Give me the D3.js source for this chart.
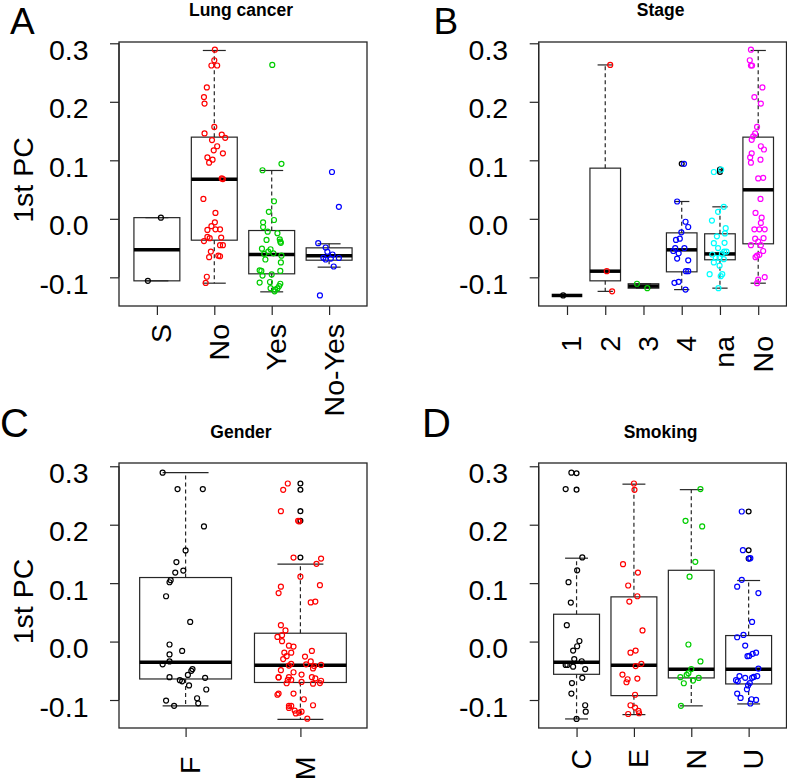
<!DOCTYPE html>
<html><head><meta charset="utf-8">
<script src="https://cdn.jsdelivr.net/npm/d3@7"></script>
<style>body{margin:0;background:#fff}svg{display:block}text{font-family:"Liberation Sans",Arial,sans-serif}</style>
</head><body><svg id="c" width="787" height="781"></svg>
<script>
// ---------- DATA ----------
const yTicks = [-0.1, 0.0, 0.1, 0.2, 0.3];

// Panel A: Lung cancer
const lungCats = ["S", "No", "Yes", "No-Yes"];
const lungColors = ["#000000", "#FF0000", "#00CD00", "#0000FF"];
const lungBox = [ // [lower whisker, Q1, median, Q3, upper whisker]
  [-0.106, -0.106, -0.053, 0.002, 0.002],
  [-0.110, -0.0365, 0.0678, 0.1396, 0.2877],
  [-0.1248, -0.094, -0.061, -0.020, 0.0826],
  [-0.0826, -0.0707, -0.063, -0.0496, -0.0427]
];
const lungOut = [[], [], [], []];
const lungPts = [ // [jitter (category units), value]
  [[0.07,0.002],[-0.157,-0.106]],
  [[0.01,0.289],[0,0.271],[-0.05,0.262],[0.05,0.262],[-0.13,0.2245],[-0.18,0.208],[-0.17,0.197],[0,0.157],[-0.17,0.146],[0.13,0.144],[0.19,0.1385],[-0.04,0.1345],[0.05,0.124],[-0.01,0.117],[0.15,0.112],[-0.12,0.105],[-0.03,0.101],[-0.09,0.096],[0.13,0.069],[0.15,0.068],[-0.19,0.034],[0.02,0.010],[0.01,-0.006],[-0.05,-0.0125],[0.10,-0.018],[-0.12,-0.019],[0.02,-0.018],[-0.12,-0.031],[-0.08,-0.033],[0.12,-0.032],[-0.18,-0.038],[0.10,-0.045],[0.15,-0.045],[-0.06,-0.056],[0.07,-0.063],[0.10,-0.064],[-0.09,-0.0655],[-0.13,-0.099],[-0.15,-0.1095]],
  [[0.01,0.263],[-0.16,0.083],[0.17,0.094],[0.04,0.030],[-0.05,0.012],[0.04,-0.002],[-0.15,-0.006],[-0.15,-0.014],[-0.07,-0.022],[0.10,-0.0245],[0.14,-0.035],[0.16,-0.041],[0.15,-0.039],[-0.09,-0.036],[-0.17,-0.051],[-0.02,-0.052],[-0.06,-0.056],[-0.13,-0.060],[0.03,-0.059],[0.17,-0.063],[-0.11,-0.0695],[0.16,-0.0746],[-0.21,-0.088],[-0.18,-0.089],[-0.16,-0.097],[0,-0.095],[0.15,-0.089],[-0.21,-0.109],[-0.03,-0.108],[0.15,-0.111],[-0.02,-0.1185],[0.10,-0.119],[0.05,-0.124],[0.06,-0.121],[0.13,-0.115]],
  [[0.05,0.080],[0.17,0.0205],[-0.19,-0.0416],[-0.06,-0.049],[-0.03,-0.0564],[0.06,-0.061],[-0.10,-0.0667],[-0.06,-0.0695],[0.03,-0.068],[0.17,-0.067],[0.08,-0.0815],[-0.16,-0.131]]
];

// Panel B: Stage
const stageCats = ["1", "2", "3", "4", "na", "No"];
const stageColors = ["#000000", "#FF0000", "#00CD00", "#0000FF", "#00FFFF", "#FF00FF"];
const stageBox = [
  [-0.131, -0.131, -0.131, -0.131, -0.131],
  [-0.124, -0.106, -0.0895, 0.0866, 0.263],
  [-0.1185, -0.1185, -0.115, -0.111, -0.111],
  [-0.121, -0.0906, -0.053, -0.024, 0.0296],
  [-0.1185, -0.070, -0.060, -0.0256, 0.0205],
  [-0.110, -0.0427, 0.0496, 0.1396, 0.2877]
];
const stageOut = [[], [], [], [0.094], [0.080, 0.084], []];
const stagePts = [
  [[-0.10,-0.131]],
  [[0.13,0.263],[0.04,-0.0895],[0.18,-0.124]],
  [[-0.17,-0.111],[0.10,-0.1185]],
  [[0.06,0.094],[-0.12,0.0296],[0.10,-0.005],[0.17,-0.014],[-0.01,-0.023],[-0.05,-0.034],[-0.15,-0.036],[0.07,-0.050],[-0.17,-0.050],[-0.22,-0.055],[-0.08,-0.059],[-0.12,-0.068],[0.17,-0.071],[0.11,-0.0895],[0.17,-0.0895],[-0.19,-0.1094],[-0.08,-0.1077],[0.10,-0.121]],
  [[-0.16,0.080],[0.03,0.084],[0.10,0.0205],[-0.05,0.012],[-0.21,-0.003],[0.15,-0.016],[-0.08,-0.030],[0.13,-0.025],[-0.16,-0.0416],[0.12,-0.041],[0.17,-0.056],[0.11,-0.056],[-0.05,-0.050],[0.05,-0.060],[-0.20,-0.061],[-0.11,-0.0667],[-0.01,-0.0667],[-0.16,-0.0746],[0.10,-0.069],[-0.01,-0.080],[-0.27,-0.0946],[0.06,-0.0946],[0.02,-0.098],[-0.04,-0.1185]],
  [[-0.19,0.289],[-0.22,0.271],[-0.19,0.262],[-0.16,0.262],[0.11,0.2245],[-0.10,0.208],[0.07,0.197],[-0.03,0.157],[-0.08,0.146],[-0.13,0.141],[-0.17,0.135],[0.07,0.124],[0.15,0.1185],[-0.17,0.112],[-0.21,0.105],[-0.19,0.096],[0.06,0.101],[0,0.069],[0.13,0.070],[0.06,0.034],[-0.07,0.010],[0.09,0.002],[0.07,-0.007],[-0.10,-0.018],[0.03,-0.018],[0.17,-0.018],[-0.08,-0.034],[0.14,-0.033],[-0.19,-0.045],[0.07,-0.045],[0,-0.039],[0.13,-0.055],[-0.03,-0.063],[-0.07,-0.0655],[0.03,-0.0615],[0,-0.104],[-0.03,-0.110],[0.17,-0.0997]]
];

// Panel C: Gender
const genderCats = ["F", "M"];
const genderColors = ["#000000", "#FF0000"];
const genderBox = [
  [-0.110, -0.064, -0.0354, 0.1096, 0.289],
  [-0.133, -0.070, -0.0405, 0.0143, 0.1324]
];
const genderOut = [[], [0.2705, 0.2597, 0.2232, 0.2066, 0.1438]];
const genderPts = [
  [[-0.20,0.289],[-0.07,0.261],[0.15,0.261],[0.16,0.197],[0,0.156],[-0.08,0.136],[-0.02,0.1215],[-0.09,0.118],[-0.14,0.1015],[-0.13,0.105],[-0.17,0.0776],[0.04,0.0337],[-0.14,-0.005],[-0.03,-0.016],[-0.14,-0.022],[-0.20,-0.039],[-0.14,-0.034],[0.06,-0.047],[0.05,-0.050],[0.02,-0.057],[-0.14,-0.061],[0.17,-0.062],[-0.05,-0.066],[-0.03,-0.068],[0.03,-0.075],[0.18,-0.082],[-0.17,-0.101],[0.10,-0.097],[0.11,-0.1056],[-0.10,-0.110]],
  [[-0.11,0.2705],[-0.15,0.2597],[-0.17,0.2232],[-0.02,0.2066],[-0.01,0.2055],[-0.06,0.1438],[0.18,0.142],[0.14,0.133],[0,0.111],[-0.17,0.094],[-0.19,0.083],[0.17,0.0965],[0.13,0.0685],[0.09,0.067],[-0.17,0.028],[-0.13,0.019],[-0.20,0.008],[-0.16,0.011],[-0.16,0.0006],[-0.10,-0.007],[-0.06,-0.0086],[0.10,-0.016],[-0.14,-0.019],[-0.08,-0.019],[-0.12,-0.025],[0.04,-0.0257],[-0.15,-0.030],[0.09,-0.034],[0.12,-0.042],[0.11,-0.046],[0.18,-0.040],[-0.08,-0.038],[-0.10,-0.041],[0.05,-0.039],[-0.17,-0.049],[-0.06,-0.0525],[0.01,-0.0565],[-0.19,-0.061],[-0.19,-0.0615],[-0.10,-0.061],[-0.11,-0.0656],[-0.08,-0.0656],[0.10,-0.061],[0.13,-0.063],[0.18,-0.067],[0.17,-0.071],[0.01,-0.069],[0.11,-0.072],[-0.12,-0.0713],[-0.20,-0.091],[-0.19,-0.089],[-0.06,-0.089],[0.03,-0.0987],[0.11,-0.109],[-0.10,-0.110],[-0.10,-0.1136],[-0.08,-0.110],[-0.05,-0.118],[-0.04,-0.123],[-0.01,-0.1216],[0.01,-0.120],[0.06,-0.132]]
];

// Panel D: Smoking
const smokeCats = ["C", "E", "N", "U"];
const smokeColors = ["#000000", "#FF0000", "#00CD00", "#0000FF"];
const smokeBox = [
  [-0.1324, -0.056, -0.0354, 0.0468, 0.1427],
  [-0.125, -0.0925, -0.0405, 0.0765, 0.2694],
  [-0.110, -0.0622, -0.0474, 0.122, 0.260],
  [-0.1067, -0.0725, -0.0474, 0.0103, 0.1045]
];
const smokeOut = [[0.288, 0.260], [], [], [0.2226, 0.1564, 0.142]];
const smokePts = [
  [[-0.09,0.289],[-0.19,0.261],[0.10,0.144],[0.01,0.122],[-0.14,0.1016],[-0.10,0.0668],[-0.17,0.028],[0.05,0.001],[0.01,-0.008],[-0.06,-0.0154],[-0.04,-0.030],[0.09,-0.0337],[-0.19,-0.040],[-0.16,-0.040],[-0.06,-0.043],[0.15,-0.047],[0.10,-0.062],[-0.08,-0.071],[-0.09,-0.089],[0.15,-0.109],[0.16,-0.120],[0,-0.1324]],
  [[0,0.2705],[0.01,0.2597],[-0.19,0.1324],[0.07,0.118],[-0.10,0.096],[0.06,0.0776],[-0.08,0.0685],[0.15,0.019],[0.03,-0.0154],[-0.06,-0.019],[0.13,-0.038],[0.03,-0.042],[-0.20,-0.0565],[-0.11,-0.0645],[-0.13,-0.0696],[0.06,-0.0633],[0.02,-0.091],[-0.06,-0.109],[0.02,-0.113],[0.08,-0.1187],[0.09,-0.1227],[-0.10,-0.1239]],
  [[0.16,0.261],[-0.10,0.2066],[0.19,0.197],[0.07,0.1364],[-0.03,0.111],[-0.05,-0.005],[0.16,-0.034],[0,-0.047],[-0.05,-0.054],[-0.08,-0.057],[-0.19,-0.061],[-0.13,-0.0713],[0.03,-0.0668],[0.13,-0.0622],[-0.18,-0.110]],
  [[-0.12,0.2226],[-0.10,0.1564],[0.01,0.142],[0.03,0.1427],[-0.12,0.1056],[-0.20,0.094],[0.17,0.083],[0.06,0.0337],[-0.09,0.0114],[-0.20,0.0074],[-0.06,-0.0068],[0.13,-0.019],[0.07,-0.021],[-0.02,-0.025],[0.01,-0.0245],[0.17,-0.0462],[-0.16,-0.059],[-0.06,-0.062],[0.09,-0.0605],[0.06,-0.062],[0.15,-0.059],[-0.19,-0.068],[-0.22,-0.066],[-0.01,-0.075],[0.02,-0.071],[-0.03,-0.0816],[-0.20,-0.089],[-0.14,-0.0964],[0.05,-0.0987],[0.13,-0.0998],[0.03,-0.106]]
];

// ---------- LAYOUT ----------
const panels = [
  {letter:"A", title:"Lung cancer", cats:lungCats, colors:lungColors, box:lungBox, out:lungOut, pts:lungPts,
   x0:119, x1:367, y0:42, y1:306, yMax:0.3022, yMin:-0.149, lx:10, ly:33.5, ls:37, ty:16, labEnd:324, ylab:true},
  {letter:"B", title:"Stage", cats:stageCats, colors:stageColors, box:stageBox, out:stageOut, pts:stagePts,
   x0:538.7, x1:786.5, y0:42, y1:306, yMax:0.3022, yMin:-0.149, lx:433.5, ly:33.5, ls:37, ty:16, labEnd:336, ylab:false},
  {letter:"C", title:"Gender", cats:genderCats, colors:genderColors, box:genderBox, out:genderOut, pts:genderPts,
   x0:119, x1:367, y0:463, y1:728, yMax:0.3056, yMin:-0.1479, lx:0, ly:436.7, ls:40, ty:438, labEnd:756.5, ylab:true},
  {letter:"D", title:"Smoking", cats:smokeCats, colors:smokeColors, box:smokeBox, out:smokeOut, pts:smokePts,
   x0:538.7, x1:786.5, y0:463, y1:728, yMax:0.3056, yMin:-0.1479, lx:422, ly:436.7, ls:40, ty:438, labEnd:749, ylab:false}
];

const svg = d3.select("#c");
const LC = "#262626";

panels.forEach(p => {
  const n = p.cats.length;
  const x = d3.scaleLinear().domain([0.5 - 0.04*n, n + 0.5 + 0.04*n]).range([p.x0, p.x1]);
  const y = d3.scaleLinear().domain([p.yMin, p.yMax]).range([p.y1, p.y0]);
  const g = svg.append("g");

  // letter & title
  g.append("text").attr("x", p.lx).attr("y", p.ly).attr("font-size", p.ls).text(p.letter);
  g.append("text").attr("x", (p.x0 + p.x1)/2 - 2).attr("y", p.ty).attr("text-anchor","middle")
    .attr("font-size", 17.5).attr("font-weight","bold").text(p.title);

  // y axis
  const ya = g.append("g").attr("transform", `translate(${p.x0},0)`)
    .call(d3.axisLeft(y).tickValues(yTicks).tickSize(9).tickFormat(d3.format(".1f")));
  ya.select(".domain").remove();
  ya.selectAll(".tick line").attr("stroke", LC).attr("stroke-width", 1.2);
  ya.selectAll(".tick text").attr("font-size", 28.5).attr("fill","#000")
    .attr("font-family",'"Liberation Sans",Arial,sans-serif')
    .attr("x", -30.5).attr("dy", null).attr("y", 16).text(d => d3.format(".1f")(d).replace("−","-"));
  g.append("line").attr("x1", p.x0).attr("x2", p.x0).attr("y1", y(0.3)).attr("y2", y(-0.1))
    .attr("stroke", LC).attr("stroke-width", 1.2);

  // x axis
  const xa = g.append("g").attr("transform", `translate(0,${p.y1})`)
    .call(d3.axisBottom(x).tickValues(d3.range(1, n+1)).tickSize(9).tickFormat(""));
  xa.select(".domain").remove();
  xa.selectAll(".tick line").attr("stroke", LC).attr("stroke-width", 1.2);
  p.cats.forEach((c, i) => {
    g.append("text").attr("transform", `translate(${x(i+1) + 14.5},${p.labEnd}) rotate(-90)`)
      .attr("text-anchor","end").attr("font-size", 28.5).text(c);
  });

  if (p.ylab) {
    g.append("text").attr("transform", `translate(33,${(p.y0 + p.y1)/2 + 6}) rotate(-90)`)
      .attr("text-anchor","middle").attr("font-size", 28.5).text("1st PC");
  }

  // boxes
  p.box.forEach((b, i) => {
    const cx = i + 1;
    const [lw, q1, med, q3, uw] = b;
    const bg = g.append("g");
    if (uw > q3) bg.append("line").attr("x1", x(cx)).attr("x2", x(cx)).attr("y1", y(q3)).attr("y2", y(uw))
      .attr("stroke", LC).attr("stroke-width", 1.2).attr("stroke-dasharray", "4,3");
    if (lw < q1) bg.append("line").attr("x1", x(cx)).attr("x2", x(cx)).attr("y1", y(q1)).attr("y2", y(lw))
      .attr("stroke", LC).attr("stroke-width", 1.2).attr("stroke-dasharray", "4,3");
    [lw, uw].forEach(v => bg.append("line").attr("x1", x(cx - 0.2)).attr("x2", x(cx + 0.2))
      .attr("y1", y(v)).attr("y2", y(v)).attr("stroke", LC).attr("stroke-width", 1.2));
    bg.append("rect").attr("x", x(cx - 0.4)).attr("width", x(cx + 0.4) - x(cx - 0.4))
      .attr("y", y(q3)).attr("height", Math.max(0, y(q1) - y(q3)))
      .attr("fill", "none").attr("stroke", LC).attr("stroke-width", 1.2);
    bg.append("line").attr("x1", x(cx - 0.4)).attr("x2", x(cx + 0.4)).attr("y1", y(med)).attr("y2", y(med))
      .attr("stroke", "#000").attr("stroke-width", 3.5);
    p.out[i].forEach(v => bg.append("circle").attr("cx", x(cx)).attr("cy", y(v)).attr("r", 2.4)
      .attr("fill","none").attr("stroke","#000").attr("stroke-width", 1.3));
  });

  // jittered points
  p.pts.forEach((arr, i) => {
    g.append("g").selectAll("circle").data(arr).join("circle")
      .attr("cx", d => x(i + 1 + d[0])).attr("cy", d => y(d[1])).attr("r", 2.5)
      .attr("fill", "none").attr("stroke", p.colors[i]).attr("stroke-width", 1.2);
  });

  // frame
  g.append("rect").attr("x", p.x0).attr("y", p.y0).attr("width", p.x1 - p.x0).attr("height", p.y1 - p.y0)
    .attr("fill", "none").attr("stroke", LC).attr("stroke-width", 1.3);
});
</script></body></html>
